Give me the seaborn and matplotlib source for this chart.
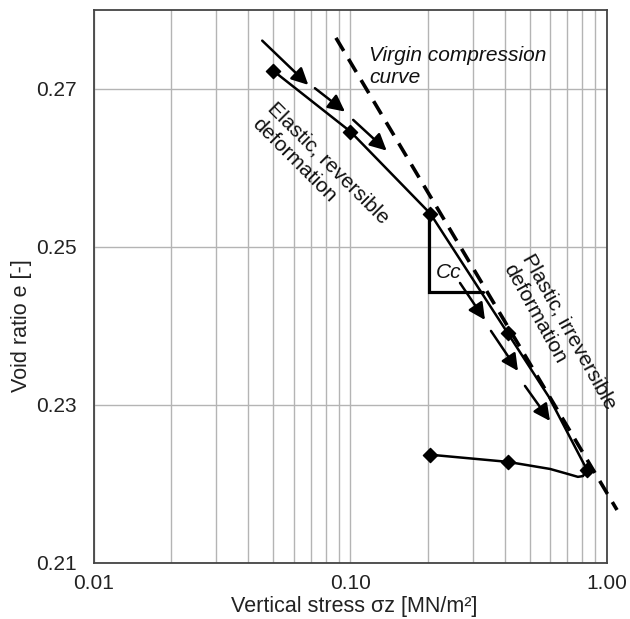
import matplotlib
matplotlib.use('Agg')
import matplotlib.pyplot as plt
from matplotlib.ticker import FixedLocator, NullFormatter
import seaborn as sns

sns.set_theme(style='white')
plt.rcParams['font.family'] = ['Liberation Sans', 'DejaVu Sans']

# measured points (diamonds) of the oedometer test
load_stress = [0.05, 0.1, 0.205, 0.41, 0.835]
load_void = [0.2723, 0.2646, 0.2542, 0.2391, 0.2218]
unload_stress = [0.41, 0.205]
unload_void = [0.2228, 0.2237]

# points
curve_stress = [0.05, 0.1, 0.205, 0.41, 0.594, 0.835]
curve_void = [0.2723, 0.2646, 0.2542, 0.2391, 0.2310, 0.2218]

# points (with the small hook)
back_stress = [0.835, 0.806, 0.77, 0.698, 0.60, 0.41, 0.205]
back_void = [0.2218, 0.2210, 0.2209, 0.2213, 0.2219, 0.2228, 0.2237]

# virgin compression line (straight in semi-log)
virgin_stress = [0.0878, 1.094]
virgin_void = [0.27646, 0.21671]

# Cc slope triangle
cc_stress = [0.2025, 0.2025, 0.3286]
cc_void = [0.2542, 0.2443, 0.2443]

# direction arrows: tail -> tip
arrow_tail_stress = [0.0453, 0.0727, 0.1025, 0.2673, 0.3530, 0.4789]
arrow_tail_void = [0.27611, 0.27009, 0.26608, 0.24544, 0.23937, 0.23241]
arrow_tip_stress = [0.0685, 0.0952, 0.1384, 0.3345, 0.4498, 0.5995]
arrow_tip_void = [0.27051, 0.26713, 0.26219, 0.24076, 0.23430, 0.22797]

fig = plt.figure(figsize=(6.3, 6.19), dpi=100)
ax = fig.add_axes([0.149, 0.0905, 0.8145, 0.8935])

sns.lineplot(x=curve_stress, y=curve_void, sort=False, estimator=None,
             color='black', lw=1.8, ax=ax)
sns.lineplot(x=back_stress, y=back_void, sort=False, estimator=None,
             color='black', lw=1.8, ax=ax)
ax.plot(virgin_stress, virgin_void, color='black', lw=2.6,
        dashes=(4.2, 2.6), clip_on=False, zorder=3)
ax.plot(cc_stress, cc_void, color='black', lw=2.3, solid_joinstyle='miter', zorder=3)

sns.scatterplot(x=load_stress + unload_stress, y=load_void + unload_void,
                marker='D', s=52, color='black', edgecolor='black', linewidth=1,
                zorder=5, ax=ax)

for xs, ys, xe, ye in zip(arrow_tail_stress, arrow_tail_void,
                          arrow_tip_stress, arrow_tip_void):
    ax.annotate('', xy=(xe, ye), xytext=(xs, ys),
                arrowprops=dict(arrowstyle='-|>,head_length=0.5,head_width=0.25',
                                mutation_scale=20, lw=1.8, color='black',
                                shrinkA=0, shrinkB=0))

ax.set_xscale('log')
ax.set_xlim(0.01, 1.0)
ax.set_ylim(0.21, 0.28)
ax.xaxis.set_major_locator(FixedLocator([0.01, 0.1, 1.0]))
ax.xaxis.set_minor_locator(FixedLocator([m * d for d in [0.01, 0.1] for m in range(2, 10)]))
ax.xaxis.set_minor_formatter(NullFormatter())
ax.set_xticklabels(['0.01', '0.10', '1.00'])
ax.set_yticks([0.21, 0.23, 0.25, 0.27])
ax.set_yticklabels(['0.21', '0.23', '0.25', '0.27'])
ax.tick_params(axis='both', which='both', length=0, labelsize=15, colors='#222222')
ax.tick_params(axis='x', pad=8)
ax.tick_params(axis='y', pad=12)

ax.grid(True, axis='x', which='both', color='#b4b4b4', lw=1)
ax.grid(True, axis='y', which='major', color='#b4b4b4', lw=1)
ax.set_axisbelow(True)
for sp in ax.spines.values():
    sp.set_color('#444444')
    sp.set_linewidth(1.3)

ax.set_xlabel('Vertical stress σz [MN/m²]', fontsize=15.5, color='#222222')
ax.set_ylabel('Void ratio e [-]', fontsize=15.5, color='#222222')
ax.xaxis.set_label_coords(0.507, -0.06)
ax.yaxis.set_label_coords(-0.12, 0.43)

# multi-line texts are anchored at the baseline start of their last line
ax.text(0.1181, 0.27076, 'Virgin compression\ncurve', fontsize=15, style='italic',
        ha='left', va='baseline', color='#111111')
ax.text(0.0418, 0.2657, 'Elastic, reversible\ndeformation', fontsize=15,
        rotation=-45, rotation_mode='anchor', ha='left', va='baseline',
        multialignment='left', color='#111111')
ax.text(0.404, 0.24747, 'Plastic, irreversible\ndeformation', fontsize=15,
        rotation=-61, rotation_mode='anchor', ha='left', va='baseline',
        multialignment='left', color='#111111', clip_on=False)
ax.text(0.2421, 0.24671, 'Cc', fontsize=15, style='italic', ha='center',
        va='center', color='#111111')

fig.savefig('out.png', dpi=100)
